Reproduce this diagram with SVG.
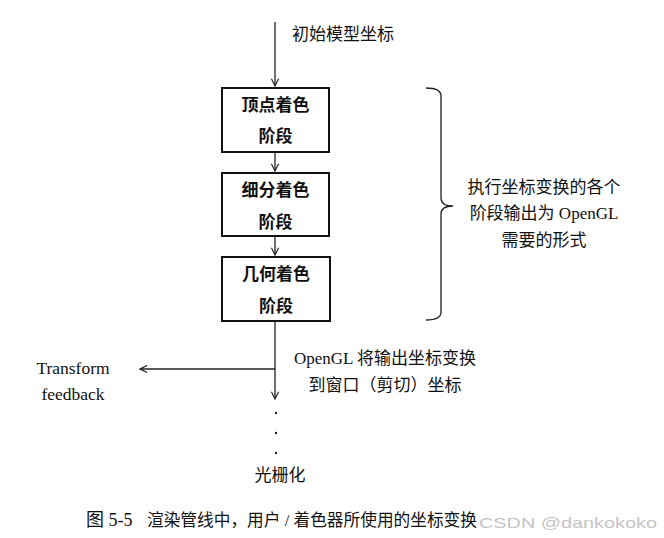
<svg xmlns="http://www.w3.org/2000/svg" width="664" height="538" viewBox="0 0 664 538">
<style>
.t{font-family:"Liberation Serif","Noto Sans CJK SC",serif;font-size:17px;fill:#111}
.b{font-weight:bold}
.box{fill:#fff;stroke:#111;stroke-width:2}
.ln{stroke:#222;stroke-width:1.3;fill:none}
</style>
<defs>
<marker id="ah" viewBox="0 0 10 10" refX="9" refY="5" markerWidth="9" markerHeight="9" markerUnits="userSpaceOnUse" orient="auto">
<path d="M1,1 L9,5 L1,9" fill="none" stroke="#222" stroke-width="1.3"/>
</marker>
</defs>
<rect width="664" height="538" fill="#fff"/>
<g id="connectors">
<line class="ln" x1="275" y1="22" x2="275" y2="86" marker-end="url(#ah)"/>
<line class="ln" x1="275" y1="152" x2="275" y2="171" marker-end="url(#ah)"/>
<line class="ln" x1="275" y1="236" x2="275" y2="255" marker-end="url(#ah)"/>
<line class="ln" x1="275" y1="321" x2="275" y2="399" marker-end="url(#ah)"/>
<line class="ln" x1="275" y1="369" x2="140" y2="369" marker-end="url(#ah)"/>
<path class="ln" d="M426,88 Q441,88 441,96 L441,198 Q441,206 453,206 Q441,206 441,214 L441,312 Q441,320 426,320"/>
</g>
<g id="start"><text class="t" x="292" y="40">初始模型坐标</text></g>
<g id="vertex">
<rect class="box" x="222" y="88" width="107" height="64"/>
<text class="t b" x="275.5" y="111" text-anchor="middle">顶点着色</text>
<text class="t b" x="275.5" y="142" text-anchor="middle">阶段</text>
</g>
<g id="tess">
<rect class="box" x="222" y="173" width="107" height="63"/>
<text class="t b" x="275.5" y="196" text-anchor="middle">细分着色</text>
<text class="t b" x="275.5" y="228" text-anchor="middle">阶段</text>
</g>
<g id="geom">
<rect class="box" x="222" y="257" width="108" height="64"/>
<text class="t b" x="276" y="280" text-anchor="middle">几何着色</text>
<text class="t b" x="276" y="312" text-anchor="middle">阶段</text>
</g>
<g id="note">
<text class="t" x="544" y="193" text-anchor="middle">执行坐标变换的各个</text>
<text class="t" x="544" y="219" text-anchor="middle">阶段输出为 OpenGL</text>
<text class="t" x="544" y="246" text-anchor="middle">需要的形式</text>
</g>
<g id="feedback">
<text class="t" x="73" y="374" text-anchor="middle" style="font-size:17.5px">Transform</text>
<text class="t" x="73" y="400" text-anchor="middle" style="font-size:17.5px">feedback</text>
</g>
<g id="opengl">
<text class="t" x="385" y="364" text-anchor="middle">OpenGL 将输出坐标变换</text>
<text class="t" x="385" y="391" text-anchor="middle">到窗口（剪切）坐标</text>
</g>
<g id="dots" fill="#222">
<circle cx="276" cy="413" r="1.2"/>
<circle cx="276" cy="433" r="1.2"/>
<circle cx="276" cy="453" r="1.2"/>
</g>
<g id="raster"><text class="t" x="280" y="481" text-anchor="middle">光栅化</text></g>
<g id="caption">
<text class="t" x="86" y="526" style="font-size:18px">图 5-5</text>
<text class="t" x="147" y="526" textLength="330" lengthAdjust="spacingAndGlyphs" style="font-size:17px">渲染管线中，用户 / 着色器所使用的坐标变换</text>
<text x="479" y="528" textLength="178" lengthAdjust="spacingAndGlyphs" style="font-family:'Liberation Sans',sans-serif;font-size:15px;fill:#c4c4c4">CSDN @dankokoko</text>
</g>
</svg>
